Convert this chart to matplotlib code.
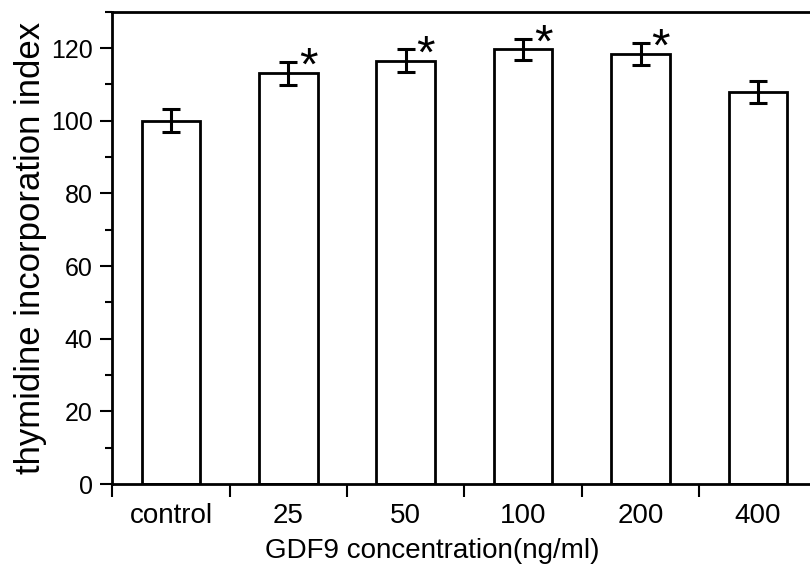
import numpy as np
import matplotlib
matplotlib.use('Agg')
import matplotlib.pyplot as plt
from matplotlib.ticker import MultipleLocator, FixedLocator

categories = ['control', '25', '50', '100', '200', '400']
means = [100.0, 113.0, 116.5, 119.6, 118.4, 108.0]
errors = [3.1, 3.2, 3.1, 3.0, 3.0, 3.0]
significant = [False, True, True, True, True, False]

plt.rcParams['font.family'] = ['Liberation Sans', 'DejaVu Sans']

fig = plt.figure(figsize=(8.1, 5.72), dpi=100)
ax = fig.add_axes([112.3/810, 88/572, 704.3/810, 472.3/572])

x = np.arange(len(categories))
ax.bar(x, means, width=0.5, color='white', edgecolor='black', linewidth=2.0, zorder=2)
ax.errorbar(x, means, yerr=errors, fmt='none', ecolor='black', elinewidth=2.2,
            capsize=6.5, capthick=2.2, zorder=3)

# asterisks for significant groups, up and to the right of the error bar
for i in range(len(categories)):
    if significant[i]:
        ax.annotate('*', xy=(x[i] + 0.17, means[i] + errors[i]), xytext=(0, -13),
                    textcoords='offset points', ha='center', va='baseline',
                    fontsize=34, zorder=4)

ax.set_xlim(-0.5, len(categories) - 0.5)
ax.set_ylim(0, 130)

ax.xaxis.set_major_locator(FixedLocator(np.arange(len(categories)) - 0.5))
ax.xaxis.set_minor_locator(FixedLocator(x))
ax.set_xticklabels([''] * len(categories))
ax.set_xticklabels(categories, minor=True)
ax.tick_params(axis='x', which='major', direction='out', length=9, width=1.5)
ax.tick_params(axis='x', which='minor', length=0, pad=14, labelsize=20)

ax.yaxis.set_major_locator(MultipleLocator(20))
ax.yaxis.set_minor_locator(MultipleLocator(10))
ax.tick_params(axis='y', which='major', direction='out', length=9, width=1.5, labelsize=18, pad=5)
ax.tick_params(axis='y', which='minor', direction='out', length=5, width=1.5)

for s in ax.spines.values():
    s.set_linewidth(2.0)

ax.set_ylabel('thymidine incorporation index', fontsize=25, labelpad=3)
ax.set_xlabel('GDF9 concentration(ng/ml)', fontsize=20)
ax.xaxis.set_label_coords(0.454, -0.115)

fig.savefig('out.png', dpi=100)
